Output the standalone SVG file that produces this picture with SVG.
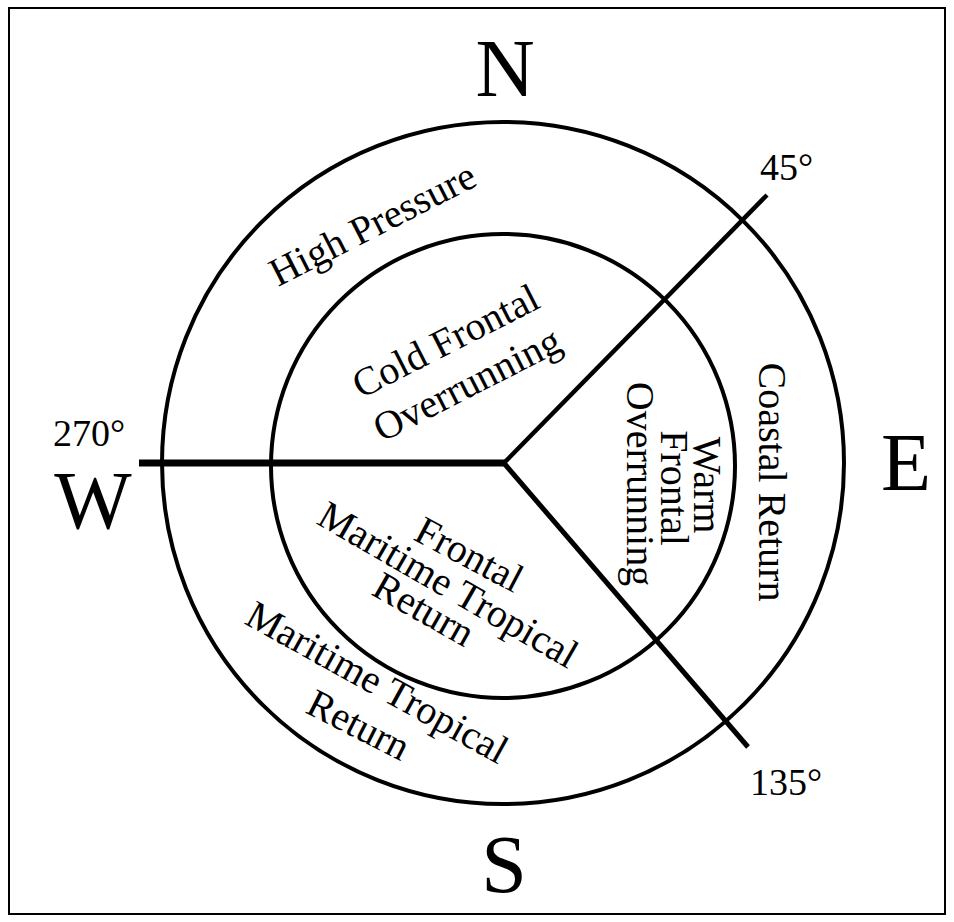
<svg xmlns="http://www.w3.org/2000/svg" width="954" height="922" viewBox="0 0 954 922">
<style>
text{font-family:"Liberation Serif","Times New Roman",serif;fill:#000}
.t{font-size:40px}
.big{font-size:82px}
.deg{font-size:38px}
.ring{fill:none;stroke:#000;stroke-width:4}
.ln{stroke:#000;stroke-linecap:butt}
</style>
<rect x="0" y="0" width="954" height="922" fill="#fff"/>
<rect x="9" y="8" width="936" height="906" fill="none" stroke="#000" stroke-width="2"/>
<g id="rings">
<circle id="outer" class="ring" cx="503" cy="463" r="341"/>
<circle id="inner" class="ring" cx="503" cy="466" r="232"/>
</g>
<g id="connectors">
<line class="ln" x1="139" y1="463" x2="505" y2="463" stroke-width="7"/>
<line class="ln" x1="503" y1="464" x2="767" y2="195" stroke-width="4.5"/>
<line class="ln" x1="503" y1="462" x2="748" y2="747" stroke-width="5"/>
</g>
<g id="compass">
<text id="N" class="big" x="505" y="96" text-anchor="middle">N</text>
<text id="S" class="big" x="504" y="892" text-anchor="middle">S</text>
<text id="E" class="big" x="881" y="490">E</text>
<text id="W" class="big" x="93" y="528" text-anchor="middle">W</text>
</g>
<g id="degrees">
<text class="deg" x="760" y="180">45°</text>
<text class="deg" x="750" y="795">135°</text>
<text class="deg" x="53" y="446">270°</text>
</g>
<g id="high-pressure">
<text class="t" transform="translate(278,287) rotate(-27)">High Pressure</text>
</g>
<g id="cold-frontal">
<text class="t" transform="translate(361,399) rotate(-27)">Cold Frontal</text>
<text class="t" text-anchor="middle" transform="translate(473,396) rotate(-27)">Overrunning</text>
</g>
<g id="warm-frontal">
<text class="t" text-anchor="middle" transform="translate(694,485) rotate(90)">Warm</text>
<text class="t" text-anchor="middle" transform="translate(661,488) rotate(90)">Frontal</text>
<text class="t" text-anchor="middle" transform="translate(627,484) rotate(90)">Overrunning</text>
</g>
<g id="coastal-return">
<text class="t" text-anchor="middle" transform="translate(759,482) rotate(90)">Coastal Return</text>
</g>
<g id="frontal-mt-return">
<text class="t" transform="translate(412,539) rotate(28)">Frontal</text>
<text class="t" transform="translate(315,523) rotate(30)">Maritime Tropical</text>
<text class="t" transform="translate(370,594) rotate(29.5)">Return</text>
</g>
<g id="mt-return">
<text class="t" transform="translate(243,623) rotate(29)">Maritime Tropical</text>
<text class="t" transform="translate(304,712) rotate(27)">Return</text>
</g>
</svg>
